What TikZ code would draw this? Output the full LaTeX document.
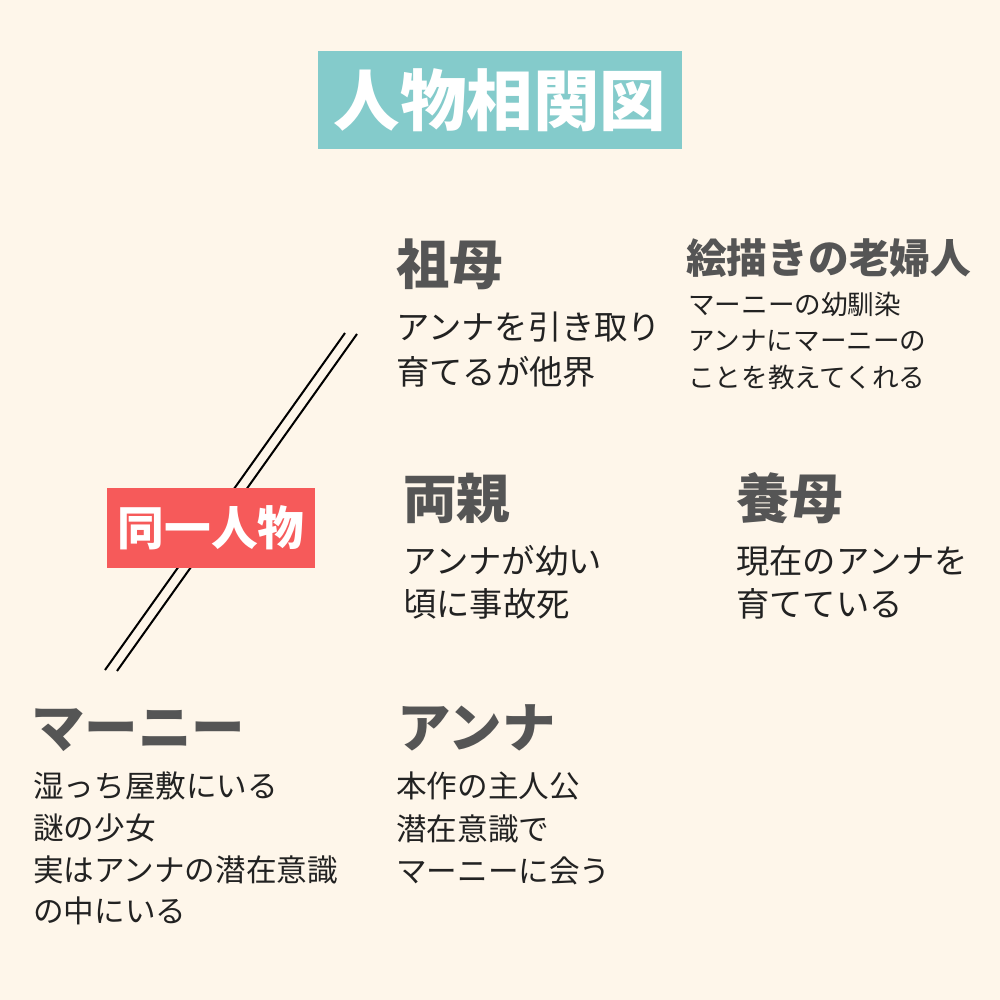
\documentclass[tikz,border=0pt]{standalone}
\usepackage{fontspec}
\setmainfont{Noto Sans CJK JP}
\definecolor{bgcream}{HTML}{FEF6EA}
\definecolor{teal1}{HTML}{84CBCB}
\definecolor{red1}{HTML}{F65A5A}
\definecolor{headgray}{HTML}{555555}
\definecolor{bodyink}{HTML}{222222}
\newcommand{\tstrut}{\rule{0pt}{0.88em}}
\begin{document}
\begin{tikzpicture}[x=1pt,y=-1pt,
  heading/.style={anchor=base west,inner sep=0pt,text=headgray,font=\fontsize{53.5}{53.5}\selectfont\bfseries},
  smallheading/.style={anchor=base west,inner sep=0pt,text=headgray,font=\fontsize{40.7}{40.7}\selectfont\bfseries},
  bodytext/.style={anchor=north west,inner sep=0pt,align=left,text=bodyink},
  pairline/.style={draw=black,line width=2pt}]
\fill[bgcream] (0,0) rectangle (1000,1000);
\useasboundingbox (0,0) rectangle (1000,1000);
% title
\node[fill=teal1,text=white,minimum width=364pt,minimum height=98pt,inner sep=0pt,
  text height=58.5pt,text depth=8pt,font=\fontsize{66.5}{66.5}\selectfont\bfseries] (title) at (500,100) {人物相関図};
% identity lines
\coordinate (l1a) at (105,670); \coordinate (l1b) at (345,333);
\coordinate (l2a) at (117,671); \coordinate (l2b) at (357,334);
\draw[pairline] (l1a) -- (l1b);
\draw[pairline] (l2a) -- (l2b);
\node[fill=red1,text=white,minimum width=208pt,minimum height=80pt,inner sep=0pt,
  text height=41pt,text depth=5.6pt,font=\fontsize{46.7}{46.7}\selectfont\bfseries] (same) at (211,528) {同一人物};
% grandmother
\node[heading] (sobo) at (396,284) {祖母};
\node[bodytext,font=\fontsize{33.3}{45}\selectfont] (sobotxt) at (396,310.3) {\tstrut アンナを引き取り\\育てるが他界};
% old lady
\node[smallheading] (rojin) at (686,273.5) {絵描きの老婦人};
\node[bodytext,font=\fontsize{26.6}{36.5}\selectfont] (rojintxt) at (688,290.7) {\tstrut マーニーの幼馴染\\アンナにマーニーの\\ことを教えてくれる};
% parents
\node[heading] (ryoshin) at (403,518) {両親};
\node[bodytext,font=\fontsize{33.3}{43}\selectfont] (ryoshintxt) at (403,544.3) {\tstrut アンナが幼い\\頃に事故死};
% foster mother
\node[heading] (yobo) at (736,518) {養母};
\node[bodytext,font=\fontsize{33.3}{43}\selectfont] (yobotxt) at (736,544.3) {\tstrut 現在のアンナを\\育てている};
% marnie
\node[heading] (marnie) at (31,747) {マーニー};
\node[bodytext,font=\fontsize{30.6}{41.7}\selectfont] (marnietxt) at (33,770.7) {\tstrut 湿っち屋敷にいる\\謎の少女\\実はアンナの潜在意識\\の中にいる};
% anna
\node[heading] (anna) at (397,747) {アンナ};
\node[bodytext,font=\fontsize{30.6}{42.5}\selectfont] (annatxt) at (396,770.7) {\tstrut 本作の主人公\\潜在意識で\\マーニーに会う};
\end{tikzpicture}
\end{document}
